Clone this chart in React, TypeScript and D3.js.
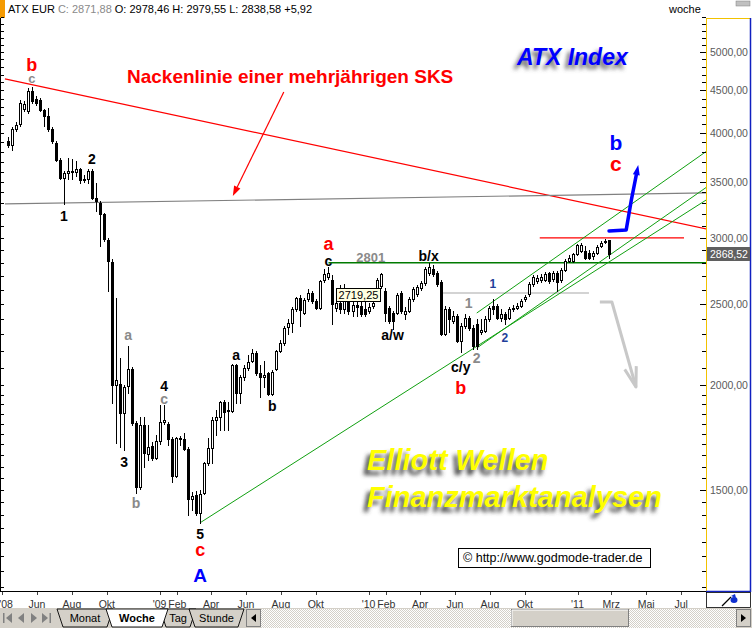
import React from "react";
import * as d3 from "d3";

const FONT = "'Liberation Sans', Arial, Helvetica, sans-serif";

// Weekly ATX bars; the first bar is dated 2008-04-11, one bar per week after that
const FIRST_BAR = "2008-04-11";
const opens = [
  3913, 3870, 4044, 4100, 4272, 4249, 4488, 4391, 4379, 4260, 4191, 4044, 3892, 3715, 3536, 3584, 3604, 3594, 3624, 3517,
  3526, 3604, 3348, 3302, 3204, 2984, 2809, 2000, 2006, 1852, 1995, 2090, 1802, 1513, 1793, 1656, 1692, 1638, 1715, 1807,
  1798, 1725, 1559, 1729, 1725, 1679, 1464, 1480, 1409, 1488, 1616, 1683, 1817, 1832, 1909, 1868, 1863, 2113, 1957, 2045,
  2096, 2136, 2183, 2067, 2045, 2067, 1951, 2090, 2201, 2244, 2351, 2377, 2470, 2545, 2443, 2538, 2581, 2524, 2477, 2674,
  2696, 2674, 2477, 2510, 2470, 2524, 2456, 2497, 2490, 2470, 2456, 2490, 2545, 2630, 2595, 2477, 2443, 2443, 2581, 2430,
  2456, 2538, 2573, 2616, 2652, 2726, 2756, 2726, 2659, 2306, 2470, 2390, 2423, 2262, 2357, 2410, 2344, 2370, 2319, 2325,
  2403, 2490, 2490, 2410, 2436, 2410, 2470, 2477, 2490, 2538, 2573, 2645, 2667, 2674, 2674, 2726, 2681, 2726, 2674, 2748,
  2817, 2817, 2871, 2895, 2895, 2879, 2856, 2879, 2935, 2965, 2978.46,
];
const highs = [
  3956, 4067, 4123, 4379, 4367, 4525, 4537, 4427, 4403, 4272, 4284, 4067, 3913, 3736, 3604, 3736, 3726, 3705, 3634, 3565,
  3624, 3624, 3488, 3320, 3213, 3000, 2832, 2545, 2154, 2000, 2226, 2101, 1812, 1832, 1832, 1793, 1711, 1744, 1893, 1893,
  1807, 1734, 1734, 1739, 1754, 1688, 1492, 1496, 1500, 1620, 1729, 1832, 1868, 1914, 1919, 1909, 2119, 2119, 2056, 2113,
  2171, 2213, 2201, 2113, 2136, 2073, 2084, 2207, 2268, 2357, 2403, 2483, 2552, 2566, 2545, 2609, 2595, 2538, 2674, 2756,
  2771, 2711, 2595, 2637, 2645, 2595, 2581, 2559, 2538, 2524, 2510, 2531, 2689, 2726, 2616, 2490, 2456, 2581, 2595, 2483,
  2552, 2623, 2637, 2667, 2771, 2802, 2787, 2741, 2674, 2490, 2483, 2456, 2436, 2377, 2430, 2423, 2364, 2403, 2403, 2417,
  2490, 2538, 2503, 2470, 2450, 2483, 2497, 2510, 2538, 2566, 2659, 2711, 2711, 2718, 2733, 2733, 2741, 2741, 2764, 2832,
  2864, 2879, 2951, 2960, 2935, 2903, 2895, 2943, 2976, 2992, 2979.55,
];
const lows = [
  3850, 3818, 4022, 4078, 4249, 4226, 4343, 4319, 4249, 4078, 4022, 3892, 3705, 3526, 3293, 3526, 3526, 3555, 3488, 3497,
  3488, 3339, 3230, 2935, 2976, 2595, 1903, 1706, 1688, 1674, 1957, 1793, 1488, 1504, 1598, 1629, 1629, 1633, 1701, 1798,
  1697, 1534, 1555, 1697, 1674, 1401, 1420, 1401, 1371, 1484, 1607, 1616, 1744, 1768, 1768, 1768, 1858, 1903, 1903, 2028,
  2084, 2130, 2056, 1935, 1989, 1946, 1946, 2084, 2189, 2232, 2306, 2313, 2456, 2357, 2430, 2524, 2510, 2470, 2470, 2659,
  2681, 2370, 2456, 2443, 2443, 2436, 2423, 2423, 2417, 2417, 2443, 2477, 2538, 2616, 2390, 2377, 2338, 2436, 2443, 2403,
  2450, 2524, 2559, 2602, 2637, 2711, 2703, 2630, 2294, 2294, 2313, 2377, 2250, 2189, 2344, 2331, 2213, 2213, 2306, 2319,
  2390, 2436, 2397, 2390, 2370, 2397, 2456, 2470, 2483, 2524, 2559, 2630, 2652, 2659, 2667, 2652, 2667, 2595, 2659, 2741,
  2809, 2809, 2864, 2887, 2832, 2832, 2832, 2871, 2927, 2955, 2838.58,
];
const closes = [
  3870, 4044, 4089, 4343, 4331, 4488, 4367, 4343, 4260, 4191, 4044, 3913, 3715, 3536, 3584, 3604, 3594, 3624, 3517, 3526,
  3604, 3348, 3320, 3204, 2992, 2817, 2000, 2028, 1852, 1989, 2090, 1802, 1513, 1793, 1660, 1688, 1638, 1715, 1807, 1817,
  1725, 1559, 1729, 1725, 1679, 1464, 1476, 1409, 1484, 1616, 1683, 1817, 1832, 1909, 1858, 1863, 2113, 1957, 2045, 2096,
  2130, 2183, 2067, 2045, 2056, 1951, 2073, 2195, 2244, 2344, 2377, 2470, 2545, 2463, 2531, 2581, 2524, 2477, 2667, 2718,
  2726, 2503, 2510, 2470, 2524, 2456, 2497, 2483, 2430, 2430, 2483, 2510, 2674, 2718, 2443, 2384, 2384, 2566, 2456, 2456,
  2538, 2609, 2623, 2652, 2756, 2771, 2718, 2645, 2306, 2470, 2403, 2423, 2262, 2357, 2410, 2344, 2226, 2226, 2331, 2397,
  2477, 2470, 2410, 2430, 2397, 2470, 2477, 2490, 2524, 2552, 2645, 2696, 2689, 2696, 2718, 2667, 2726, 2659, 2748, 2817,
  2840, 2871, 2943, 2943, 2840, 2840, 2879, 2927, 2960, 2978, 2871.88,
];

const priceLabels = [1500, 2000, 2500, 3000, 3500, 4000, 4500, 5000];
const lastPrice = 2868.52;
const headerQuote = { close: "2871,88", open: "2978,46", high: "2979,55", low: "2838,58", change: "+5,92" };

const monthTicks: [string, string][] = [
  ["2008-04-01", "'08"], ["2008-06-01", "Jun"], ["2008-08-01", "Aug"], ["2008-10-01", "Okt"],
  ["2009-01-01", "'09"], ["2009-02-01", "Feb"], ["2009-04-01", "Apr"], ["2009-06-01", "Jun"],
  ["2009-08-01", "Aug"], ["2009-10-01", "Okt"], ["2010-01-01", "'10"], ["2010-02-01", "Feb"],
  ["2010-04-01", "Apr"], ["2010-06-01", "Jun"], ["2010-08-01", "Aug"], ["2010-10-01", "Okt"],
  ["2011-01-01", "'11"], ["2011-03-01", "Mrz"], ["2011-05-01", "Mai"], ["2011-07-01", "Jul"],
];

// Drawn trend lines: [date, price] pairs
const neckline: [string, number][] = [["2008-04-06", 4643], ["2011-08-14", 3074]];
const wave1Line: [string, number][] = [["2008-04-06", 3293], ["2011-08-14", 3394]];
const grayLevel: [string, number][] = [["2010-05-07", 2578], ["2011-01-21", 2578]];
const level2801: [string, number][] = [["2009-10-23", 2801], ["2011-08-14", 2801]];
const highLevel: [string, number][] = [["2010-10-27", 3000], ["2011-07-06", 3000]];
const supportLong: [string, number][] = [["2009-03-13", 1371], ["2011-08-14", 3330]];
const channelTop: [string, number][] = [["2010-07-09", 2440], ["2011-08-14", 3805]];
const channelLow: [string, number][] = [["2010-07-09", 2216], ["2011-08-14", 3447]];

// Scenario arrows
const bullPath: [string, number][] = [["2011-02-25", 3057], ["2011-03-27", 3066], ["2011-04-05", 3330], ["2011-04-17", 3665]];
const bearPath: [string, number][] = [["2011-02-09", 2515], ["2011-03-02", 2515], ["2011-04-13", 1991]];
const necklinePointer: [string, number][] = [["2009-08-06", 4479], ["2009-05-09", 3366]];

type WaveLabel = { text: string; bar?: number; date?: string; price: number; color: string; size: number };
const RED = "#ff0000";
const BLACK = "#000000";
const GRAY = "#8a8a8a";
const BLUE = "#0000ff";
const NAVY = "#1f3f9a";
const waveLabels: WaveLabel[] = [
  { text: "b", bar: 6, price: 4825, color: RED, size: 18 },
  { text: "c", bar: 6, price: 4655, color: GRAY, size: 13 },
  { text: "1", bar: 14, price: 3186, color: BLACK, size: 14 },
  { text: "2", bar: 21, price: 3725, color: BLACK, size: 14 },
  { text: "a", bar: 30, price: 2300, color: GRAY, size: 14 },
  { text: "3", bar: 29, price: 1620, color: BLACK, size: 14 },
  { text: "b", bar: 32, price: 1448, color: GRAY, size: 14 },
  { text: "4", bar: 39, price: 1995, color: BLACK, size: 14 },
  { text: "c", bar: 39, price: 1924, color: GRAY, size: 14 },
  { text: "5", bar: 48, price: 1330, color: BLACK, size: 14 },
  { text: "c", bar: 48, price: 1272, color: RED, size: 18 },
  { text: "A", bar: 48, price: 1186, color: BLUE, size: 19 },
  { text: "a", bar: 57, price: 2177, color: BLACK, size: 14 },
  { text: "b", bar: 66, price: 1888, color: BLACK, size: 14 },
  { text: "a", bar: 80, price: 2951, color: RED, size: 18 },
  { text: "c", bar: 80, price: 2817, color: BLACK, size: 14 },
  { text: "b/x", bar: 105, price: 2856, color: BLACK, size: 14 },
  { text: "a/w", bar: 96, price: 2300, color: BLACK, size: 14 },
  { text: "c/y", bar: 113, price: 2101, color: BLACK, size: 14 },
  { text: "b", bar: 113, price: 1989, color: RED, size: 18 },
  { text: "1", bar: 115, price: 2510, color: GRAY, size: 14 },
  { text: "2", bar: 117, price: 2154, color: GRAY, size: 14 },
  { text: "1", bar: 121, price: 2645, color: NAVY, size: 12 },
  { text: "2", bar: 124, price: 2278, color: NAVY, size: 12 },
  { text: "b", date: "2011-03-09", price: 3902, color: BLUE, size: 21 },
  { text: "c", date: "2011-03-09", price: 3685, color: RED, size: 21 },
  { text: "2801", date: "2010-01-05", price: 2840, color: GRAY, size: 13 },
];

const pd = (s: string) => new Date(s + "T00:00:00Z");
const fmtPrice = (v: number) => v.toFixed(2).replace(".", ",");

export default function App() {
  const PL = 1, PR = 706, PT = 18, PB = 592;
  const x = d3.scaleUtc().domain([pd("2008-06-01"), pd("2011-06-01")]).range([37, 664]);
  const y = d3.scaleLog().domain([1500, 5000]).range([490, 52]);

  const barDate = (i: number) => d3.utcDay.offset(pd(FIRST_BAR), 7 * i);
  const bars = opens.map((o, i) => ({ date: barDate(i), o, h: highs[i], l: lows[i], c: closes[i] }));

  const pt = ([d, p]: [string, number]): [number, number] => [x(pd(d)), y(p)];
  const seg = (pts: [string, number][]) => d3.line()(pts.map(pt)) as string;

  const minorTicks = [...d3.range(1150, 2000, 50), ...d3.range(2000, 5600, 100)];

  // arrowhead helpers
  const head = (pts: [number, number][], len: number, half: number) => {
    const [x1, y1] = pts[pts.length - 2];
    const [x2, y2] = pts[pts.length - 1];
    const a = Math.atan2(y2 - y1, x2 - x1);
    const bx = x2 - len * Math.cos(a), by = y2 - len * Math.sin(a);
    const nx = -Math.sin(a) * half, ny = Math.cos(a) * half;
    return { tip: [x2, y2], l: [bx + nx, by + ny], r: [bx - nx, by - ny], base: [bx, by] };
  };

  const bullPts = bullPath.map(pt);
  const bullHead = head(bullPts, 10, 3.5);
  const bullLine = d3.line()([...bullPts.slice(0, -1), bullHead.base as [number, number]]) as string;

  const bearPts = bearPath.map(pt);
  const bearHead = head(bearPts, 20, 6);

  const ptrPts = necklinePointer.map(pt);
  const ptrHead = head(ptrPts, 10, 3.5);

  const lastY = y(lastPrice);

  const tabs = [
    { label: "Monat", x0: 57, x1: 113, active: false },
    { label: "Tag", x0: 160, x1: 196, active: false },
    { label: "Stunde", x0: 189, x1: 244, active: false },
    { label: "Woche", x0: 106, x1: 168, active: true },
  ];

  return (
    <svg
      width={752}
      height={628}
      viewBox="0 0 752 628"
      style={{ position: "absolute", left: 0, top: 0, background: "#fff" }}
      fontFamily={FONT}
    >
      <defs>
        <clipPath id="plotClip">
          <rect x={PL} y={PT} width={PR - PL} height={PB - PT} />
        </clipPath>
        <filter id="softShadow" x="-20%" y="-60%" width="140%" height="220%">
          <feGaussianBlur stdDeviation="2.2" />
        </filter>
        <pattern id="dither" width="2" height="2" patternUnits="userSpaceOnUse">
          <rect width="2" height="2" fill="#ffffff" />
          <rect width="1" height="1" fill="#d4d0c8" />
          <rect x="1" y="1" width="1" height="1" fill="#d4d0c8" />
        </pattern>
      </defs>

      <rect x={0} y={0} width={752} height={628} fill="#ffffff" />

      {/* header line */}
      <rect x={0} y={0} width={5} height={18} fill="#f59a00" />
      <text x={8} y={13} fontSize={11} fill="#000">
        <tspan>ATX EUR </tspan>
        <tspan fill="#8a8a8a">C: {headerQuote.close}</tspan>
        <tspan> O: {headerQuote.open} H: {headerQuote.high} L: {headerQuote.low} {headerQuote.change}</tspan>
      </text>
      <text x={669} y={13} fontSize={11} fill="#000">woche</text>
      <rect x={736} y={1} width={14} height={5} fill="#c0c0c0" stroke="#808080" strokeWidth={0.5} />

      {/* plot frame */}
      <line x1={0.5} y1={PT} x2={0.5} y2={PB} stroke="#000" />
      <line x1={0} y1={PB - 0.5} x2={PR} y2={PB - 0.5} stroke="#000" />

      {/* left ticks */}
      <g stroke="#000" shapeRendering="crispEdges">
        {minorTicks.map((v) => (
          <line key={"l" + v} x1={1} x2={4} y1={Math.round(y(v)) + 0.5} y2={Math.round(y(v)) + 0.5} />
        ))}
      </g>

      <g clipPath="url(#plotClip)">
        {/* trend lines */}
        <path d={seg(neckline)} stroke="#ff0000" strokeWidth={1.2} fill="none" />
        <path d={seg(wave1Line)} stroke="#808080" strokeWidth={1.2} fill="none" />
        <path d={seg(grayLevel)} stroke="#a8a8a8" strokeWidth={1.2} fill="none" />
        <path d={seg(level2801)} stroke="#007a00" strokeWidth={1.5} fill="none" />
        <path d={seg(highLevel)} stroke="#ff0000" strokeWidth={1.3} fill="none" />
        <path d={seg(supportLong)} stroke="#10a010" strokeWidth={1} fill="none" />
        <path d={seg(channelTop)} stroke="#10a010" strokeWidth={1} fill="none" />
        <path d={seg(channelLow)} stroke="#10a010" strokeWidth={1} fill="none" />

        {/* candles */}
        <g shapeRendering="crispEdges">
          {bars.map((b, i) => {
            const cx = Math.round(x(b.date));
            const up = b.c >= b.o;
            const top = Math.round(y(Math.max(b.o, b.c)));
            const bot = Math.round(y(Math.min(b.o, b.c)));
            const h = Math.max(1, bot - top);
            return (
              <g key={i}>
                <line x1={cx + 0.5} x2={cx + 0.5} y1={Math.round(y(b.h))} y2={Math.round(y(b.l)) + 1} stroke="#000" />
                {up ? (
                  <rect x={cx - 0.5} y={top + 0.5} width={2} height={h} fill="#fff" stroke="#000" />
                ) : (
                  <rect x={cx - 1} y={top} width={3} height={h + 1} fill="#000" />
                )}
              </g>
            );
          })}
        </g>

        {/* scenario arrows */}
        <path d={bullLine} stroke="#0000ff" strokeWidth={3.5} fill="none" strokeLinejoin="round" strokeLinecap="round" />
        <polygon
          points={[bullHead.tip, bullHead.l, bullHead.r].map((p) => p.join(",")).join(" ")}
          fill="#0000ff"
        />
        <path d={d3.line()(bearPts) as string} stroke="#c8c8c8" strokeWidth={3} fill="none" strokeLinejoin="round" />
        <path
          d={d3.line()([bearHead.l as [number, number], bearHead.tip as [number, number], bearHead.r as [number, number]]) as string}
          stroke="#c8c8c8"
          strokeWidth={3}
          fill="none"
          strokeLinejoin="round"
        />
        <path d={d3.line()([ptrPts[0], ptrHead.base as [number, number]]) as string} stroke="#ff0000" strokeWidth={1.2} fill="none" />
        <polygon points={[ptrHead.tip, ptrHead.l, ptrHead.r].map((p) => p.join(",")).join(" ")} fill="#ff0000" />

        {/* wave labels */}
        {waveLabels.map((w, i) => {
          const d = w.bar !== undefined ? barDate(w.bar) : pd(w.date as string);
          return (
            <text
              key={i}
              x={x(d)}
              y={y(w.price)}
              dy="0.36em"
              textAnchor="middle"
              fontSize={w.size}
              fontWeight="bold"
              fill={w.color}
            >
              {w.text}
            </text>
          );
        })}

        {/* neckline caption */}
        <text x={127} y={83} fontSize={19} fontWeight="bold" fill="#ff0000">
          Nackenlinie einer mehrjährigen SKS
        </text>

        {/* title with soft shadow */}
        <text x={514} y={69} fontSize={23} fontWeight="bold" fontStyle="italic" fill="#555" filter="url(#softShadow)">
          ATX Index
        </text>
        <text x={517} y={65} fontSize={23} fontWeight="bold" fontStyle="italic" fill="#0000ff">
          ATX Index
        </text>

        {/* watermark */}
        <g fontSize={29} fontWeight="bold" fontStyle="italic">
          <text x={363} y={475} fill="#444" filter="url(#softShadow)">Elliott Wellen</text>
          <text x={363} y={512} fill="#444" filter="url(#softShadow)">Finanzmarktanalysen</text>
          <text x={367} y={470} fill="#ffff00">Elliott Wellen</text>
          <text x={367} y={507} fill="#ffff00">Finanzmarktanalysen</text>
        </g>

        {/* price note box */}
        <rect x={336.5} y={288.5} width={44} height={13} fill="#ffffe1" stroke="#000" />
        <text x={358.5} y={299} textAnchor="middle" fontSize={11} fill="#000">2719,25</text>

        {/* copyright */}
        <rect x={458.5} y={548.5} width={192} height={19} fill="#fff" stroke="#000" />
        <text x={463} y={562} fontSize={12.5} fill="#000">© http://www.godmode-trader.de</text>
      </g>

      {/* right price axis */}
      <rect x={707} y={PT} width={44} height={PB - PT} fill="#fff" />
      <line x1={706.5} y1={PT} x2={706.5} y2={PB} stroke="#f2c200" />
      <line x1={706} y1={18.5} x2={751} y2={18.5} stroke="#f2c200" />
      <line x1={750.5} y1={PT} x2={750.5} y2={PB} stroke="#1020c0" strokeWidth={1.5} />
      <line x1={706} y1={PB - 0.5} x2={751} y2={PB - 0.5} stroke="#1020c0" strokeWidth={1.5} />
      <g stroke="#000" shapeRendering="crispEdges">
        {minorTicks.map((v) => (
          <line key={"r" + v} x1={702} x2={706} y1={Math.round(y(v)) + 0.5} y2={Math.round(y(v)) + 0.5} />
        ))}
        {priceLabels.map((v) => (
          <line key={"m" + v} x1={700} x2={706} y1={Math.round(y(v)) + 0.5} y2={Math.round(y(v)) + 0.5} />
        ))}
      </g>
      <g fontSize={10.5} fill="#5a5a5a">
        {priceLabels.map((v) => (
          <text key={v} x={710} y={y(v)} dy="0.36em">
            {fmtPrice(v)}
          </text>
        ))}
      </g>
      <rect x={707} y={Math.round(lastY) - 7} width={43} height={14} fill="#5f5f5f" />
      <text x={710} y={lastY} dy="0.36em" fontSize={10.5} fill="#fff">
        {fmtPrice(lastPrice)}
      </text>

      {/* date axis */}
      <g>
        {monthTicks.map(([d, label], i) => {
          const tx = x(pd(d));
          const lx = Math.max(tx, 6);
          return (
            <g key={i}>
              {tx > 1 && <line x1={Math.round(tx) + 0.5} x2={Math.round(tx) + 0.5} y1={592} y2={595} stroke="#404040" />}
              <text x={lx} y={604} dy="0.35em" textAnchor="middle" fontSize={10.5} fill="#333">
                {label}
              </text>
            </g>
          );
        })}
      </g>

      {/* corner tool box */}
      <rect x={706.5} y={592.5} width={44} height={15} fill="#ffffff" stroke="#000" strokeWidth={0.8} />
      <line x1={722} y1={606} x2={731} y2={597} stroke="#000" strokeWidth={1.2} />
      <ellipse cx={734} cy={600} rx={3.5} ry={3} fill="#1030d0" />
      <path d="M731,596 L735,594 L736,598 Z" fill="#1030d0" />

      {/* sheet tabs row */}
      <rect x={0} y={608} width={752} height={20} fill="#d4d0c8" />
      <g fill="#808080">
        <rect x={3} y={613} width={1.5} height={10} />
        <path d="M12,613 L6,618 L12,623 Z" />
        <path d="M24,613 L18,618 L24,623 Z" />
        <path d="M31,613 L37,618 L31,623 Z" />
        <path d="M42,613 L48,618 L42,623 Z" />
        <rect x={49.5} y={613} width={1.5} height={10} />
      </g>
      {tabs.map((t) => (
        <g key={t.label}>
          <polygon
            points={`${t.x0},609 ${t.x1},609 ${t.x1 - 6},627 ${t.x0 + 6},627`}
            fill={t.active ? "#ffffff" : "#d4d0c8"}
            stroke="#000"
            strokeWidth={0.9}
          />
          <text
            x={(t.x0 + t.x1) / 2}
            y={622}
            textAnchor="middle"
            fontSize={11}
            fontWeight={t.active ? "bold" : "normal"}
            fill="#000"
          >
            {t.label}
          </text>
        </g>
      ))}
      <rect x={246.5} y={609.5} width={14} height={17} fill="#d4d0c8" stroke="#808080" />
      <path d="M256,614 L251,618 L256,622 Z" fill="#000" />
      <rect x={261} y={609} width={475} height={19} fill="url(#dither)" />
      <rect x={511.5} y={609.5} width={117} height={17} fill="#d4d0c8" stroke="#808080" />
      <line x1={512} y1={610} x2={628} y2={610} stroke="#fff" />
      <line x1={512} y1={610} x2={512} y2={626} stroke="#fff" />
      <rect x={736.5} y={609.5} width={14} height={17} fill="#d4d0c8" stroke="#808080" />
      <path d="M741,614 L746,618 L741,622 Z" fill="#000" />
    </svg>
  );
}
